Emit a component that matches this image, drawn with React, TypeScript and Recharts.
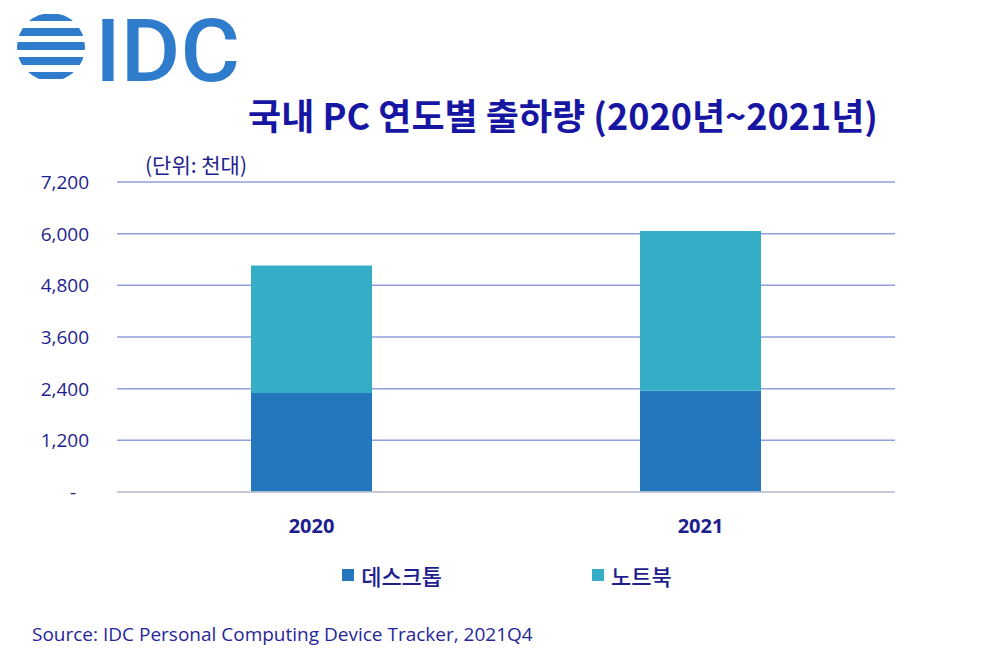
import { BarChart, Bar, XAxis, YAxis, CartesianGrid, Legend } from 'recharts';

const years = ['2020', '2021'];
const desktop = [2300, 2350];
const notebook = [2960, 3710];
const yTicks = [0, 1200, 2400, 3600, 4800, 6000, 7200];
const seriesOrder = ['데스크톱', '노트북'];

const data = years.map((year, i) => ({ year, desktop: desktop[i], notebook: notebook[i] }));

const NAVY = '#1e1e8e';
const DESK = '#2577bd';
const NOTE = '#35adc6';
const KR = '"Noto Sans CJK KR", "Noto Sans", sans-serif';
const LAT = '"Open Sans", "Noto Sans", sans-serif';

function YTick({ x, y, payload }: any) {
  const v = payload.value;
  return (
    <text x={v === 0 ? x - 13 : x} y={y} dy={7} textAnchor='end' fill={NAVY} fontSize={19} fontFamily={LAT}>
      {v === 0 ? '-' : v.toLocaleString('en-US')}
    </text>
  );
}

function XTick({ x, y, payload }: any) {
  return (
    <text x={x} y={y} dy={41} textAnchor='middle' fill={NAVY} fontSize={20} fontWeight={700} fontFamily={LAT}>
      {payload.value}
    </text>
  );
}

function LegendBox({ payload }: any) {
  const items = [...(payload || [])].sort((a: any, b: any) => seriesOrder.indexOf(a.value) - seriesOrder.indexOf(b.value));
  return (
    <div style={{ display: 'flex', justifyContent: 'center', gap: 150, paddingLeft: 14 }}>
      {items.map((p: any) => (
        <div key={p.value} style={{ display: 'flex', alignItems: 'center', gap: 7 }}>
          <span style={{ width: 12, height: 12, background: p.color, display: 'inline-block' }} />
          <span style={{ fontFamily: KR, fontSize: 22, color: NAVY, fontWeight: 500 }}>{p.value}</span>
        </div>
      ))}
    </div>
  );
}

function Logo() {
  const stripes = [
    [14, 7],
    [28, 8],
    [42, 8],
    [57, 8],
    [72, 7],
  ];
  return (
    <svg width={290} height={130} style={{ position: 'absolute', left: 0, top: 0 }}>
      <defs>
        <clipPath id='globe'>
          <circle cx={51} cy={47} r={34} />
        </clipPath>
      </defs>
      <g clipPath='url(#globe)'>
        {stripes.map(([y, h], i) => (
          <rect key={i} x={10} y={y} width={85} height={h} rx={3} fill='#2e7ccb' />
        ))}
      </g>
      <text x={95} y={81} fontSize={87} fontWeight={500} fontFamily='Roboto, sans-serif' fill='#2e7ccb' textLength={145} lengthAdjust='spacingAndGlyphs'>
        IDC
      </text>
    </svg>
  );
}

export default function App() {
  return (
    <div style={{ position: 'absolute', left: 0, top: 0, width: 1000, height: 665, background: '#fff', overflow: 'hidden' }}>
      <BarChart width={1000} height={665} data={data} margin={{ top: 182, right: 105, left: 0, bottom: 113 }}>
        <CartesianGrid vertical={false} stroke='#8fa0dc' strokeWidth={1.5} />
        <XAxis dataKey='year' height={60} tickLine={false} tickSize={0} tickMargin={0} axisLine={{ stroke: '#d0d0d0', strokeWidth: 1.5 }} tick={<XTick />} />
        <YAxis width={117} domain={[0, 7200]} ticks={yTicks} axisLine={false} tickLine={false} tickSize={0} tickMargin={28} tick={<YTick />} />
        <Bar dataKey='desktop' name='데스크톱' stackId='a' fill={DESK} barSize={121} isAnimationActive={false} />
        <Bar dataKey='notebook' name='노트북' stackId='a' fill={NOTE} barSize={121} isAnimationActive={false} />
        <Legend layout='vertical' align='center' verticalAlign='middle' content={<LegendBox />} wrapperStyle={{ position: 'absolute', top: 559, left: 0, width: 1000 }} />
      </BarChart>
      <Logo />
      <div style={{ position: 'absolute', left: 0, width: 1000, top: 88, textAlign: 'center', paddingLeft: 126, boxSizing: 'border-box', fontFamily: KR, fontWeight: 700, fontSize: 36, color: '#1616a2', whiteSpace: 'nowrap' }}>
        국내 PC 연도별 출하량 (2020년~2021년)
      </div>
      <div style={{ position: 'absolute', left: 145, top: 149, fontFamily: KR, fontSize: 21, color: NAVY, whiteSpace: 'nowrap' }}>
        (단위: 천대)
      </div>
      <div style={{ position: 'absolute', left: 32, top: 621, fontFamily: LAT, fontSize: 19, color: '#26269a', whiteSpace: 'nowrap' }}>
        Source: IDC Personal Computing Device Tracker, 2021Q4
      </div>
    </div>
  );
}
